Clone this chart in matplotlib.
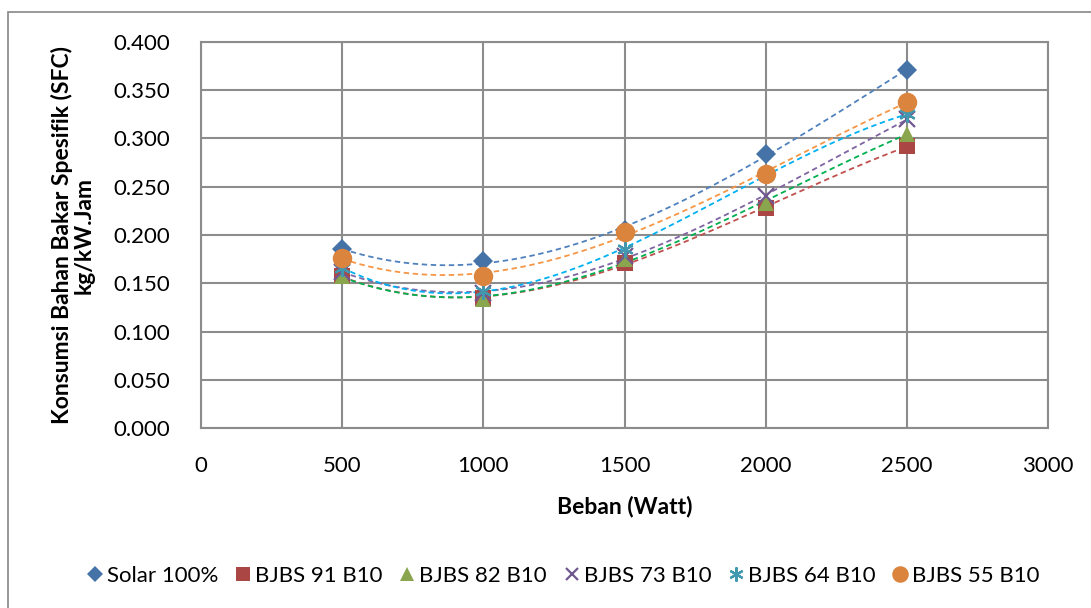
import numpy as np
import matplotlib.pyplot as plt
from matplotlib.lines import Line2D
from matplotlib.patches import Rectangle

plt.rcParams['font.family'] = ['Lato', 'DejaVu Sans']

beban = [500, 1000, 1500, 2000, 2500]
solar_100 = [0.185, 0.173, 0.205, 0.284, 0.371]
bjbs_91 = [0.157, 0.135, 0.171, 0.228, 0.292]
bjbs_82 = [0.157, 0.134, 0.175, 0.233, 0.305]
bjbs_73 = [0.162, 0.140, 0.178, 0.240, 0.320]
bjbs_64 = [0.166, 0.142, 0.186, 0.262, 0.325]
bjbs_55 = [0.176, 0.158, 0.203, 0.263, 0.338]

names = ['Solar 100%', 'BJBS 91 B10', 'BJBS 82 B10', 'BJBS 73 B10', 'BJBS 64 B10', 'BJBS 55 B10']
series = [solar_100, bjbs_91, bjbs_82, bjbs_73, bjbs_64, bjbs_55]
markers = ['D', 's', '^', 'x', (6, 2, 0), 'o']
mcolors = ['#4572A7', '#AA4643', '#89A54E', '#71588F', '#4198AF', '#DB843D']
tcolors = ['#4F81BD', '#C0504D', '#00B050', '#8064A2', '#00B0F0', '#F79646']
msizes = [10, 12, 12, 11, 12, 14]

fig = plt.figure(figsize=(10.91, 6.08), dpi=100)
ax = fig.add_axes([201 / 1091, 1 - 428 / 608, (1048 - 201) / 1091, (428 - 42) / 608])

# outer chart border
fig.patches.append(Rectangle((8 / 1091, -0.1), 1.2, 1 - 12 / 608 + 0.1, transform=fig.transFigure,
                             fill=False, edgecolor='#888888', lw=1.2))

# third order trendlines, dashed
xx = np.linspace(500, 2500, 200)
handles = []
for ys, tc in zip(series, tcolors):
    coef = np.polyfit(beban, ys, 3)
    ax.plot(xx, np.polyval(coef, xx), ls=(0, (3, 2)), color=tc, lw=1.3, zorder=2)
for ys, nm, mk, mc, ms in zip(series, names, markers, mcolors, msizes):
    mew = 1.6 if mk in ('x', (6, 2, 0)) else 0
    ax.plot(beban, ys, ls='none', marker=mk, color=mc, ms=ms, mew=mew, zorder=3)
    handles.append(Line2D([], [], ls='none', marker=mk, color=mc, ms=ms * 0.85, mew=mew, label=nm))

ax.set_xlim(0, 3000)
ax.set_ylim(0, 0.4)
ax.set_xticks(np.arange(0, 3001, 500))
ax.set_yticks(np.arange(0, 0.401, 0.05))
ax.set_yticklabels([f'{v:.3f}' for v in np.arange(0, 0.401, 0.05)])
ax.grid(True, color='#8c8c8c', lw=1.5)
ax.set_axisbelow(True)
for s in ax.spines.values():
    s.set_color('#8c8c8c')
    s.set_linewidth(1.5)
ax.tick_params(length=0, labelsize=16)
ax.tick_params(axis='y', pad=22)
ax.tick_params(axis='x', pad=20)

ax.set_xlabel('Beban (Watt)', fontsize=16.5, fontweight='bold', labelpad=14)
ax.set_ylabel('Konsumsi Bahan Bakar Spesifik (SFC)\nkg/kW.Jam', fontsize=16.5, fontweight='bold',
              labelpad=14, linespacing=1.0)

fig.legend(handles=handles, loc='center', bbox_to_anchor=(0.515, 1 - 576 / 608), ncol=6, frameon=False,
           fontsize=16, handletextpad=0.05, columnspacing=0.6, handlelength=1.0)

fig.savefig('out.png', dpi=100)
